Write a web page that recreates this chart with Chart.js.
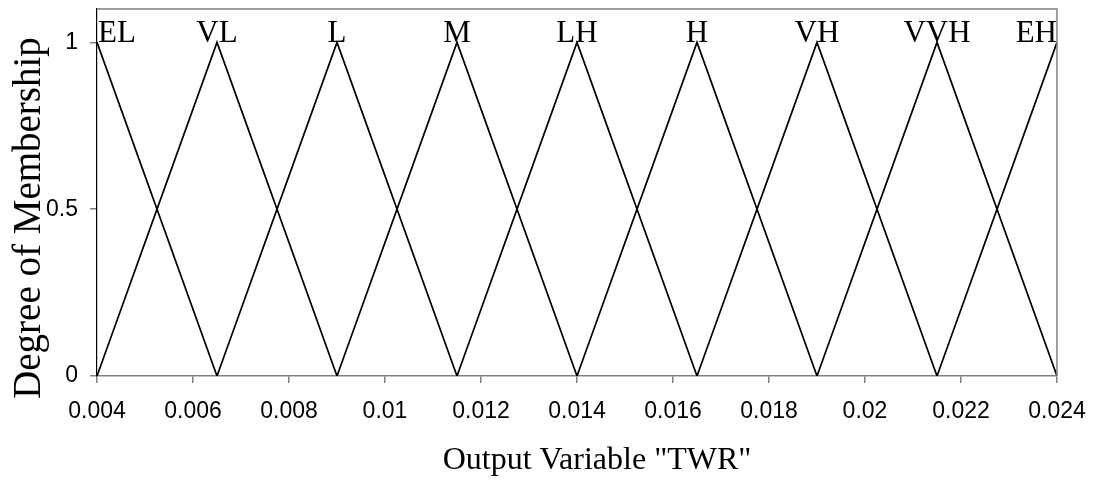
<!DOCTYPE html>
<html>
<head>
<meta charset="utf-8">
<script src="https://cdn.jsdelivr.net/npm/chart.js@4/dist/chart.umd.min.js"></script>
<style>
  html, body { margin: 0; padding: 0; background: #fff; }
  #wrap { width: 1095px; height: 481px; position: relative; }
</style>
</head>
<body>
<div id="wrap"><canvas id="c" width="1095" height="481"></canvas></div>
<script>
// Membership function names and triangle vertices (x positions)
const mfNames = ['EL', 'VL', 'L', 'M', 'LH', 'H', 'VH', 'VVH', 'EH'];
const mfLeft  = [null,   0.004,  0.0065, 0.009,  0.0115, 0.014,  0.0165, 0.019,  0.0215];
const mfPeak  = [0.004,  0.0065, 0.009,  0.0115, 0.014,  0.0165, 0.019,  0.0215, 0.024];
const mfRight = [0.0065, 0.009,  0.0115, 0.014,  0.0165, 0.019,  0.0215, 0.024,  null];
const xTickValues = [0.004, 0.006, 0.008, 0.01, 0.012, 0.014, 0.016, 0.018, 0.02, 0.022, 0.024];
const yTickValues = [0, 0.5, 1];
const xTitle = 'Output Variable "TWR"';
const yTitle = 'Degree of Membership';

const datasets = mfNames.map((name, i) => {
  const pts = [];
  if (mfLeft[i] !== null) pts.push({ x: mfLeft[i], y: 0 });
  pts.push({ x: mfPeak[i], y: 1 });
  if (mfRight[i] !== null) pts.push({ x: mfRight[i], y: 0 });
  return {
    label: name,
    data: pts,
    borderColor: '#000',
    borderWidth: 1.7,
    pointRadius: 0,
    fill: false,
    tension: 0
  };
});

const CHART_LEFT = 97, CHART_RIGHT = 1057, CHART_TOP = 9, CHART_BOTTOM = 376;
const SERIF = '"Liberation Serif", "Times New Roman", serif';
const SANS = '"Liberation Sans", Arial, sans-serif';

const decor = {
  id: 'decor',
  afterDatasetsDraw(chart) {
    const { ctx, chartArea: a, scales } = chart;
    ctx.save();
    // frame: top and right gray
    ctx.strokeStyle = '#808080';
    ctx.lineWidth = 1.5;
    ctx.beginPath();
    ctx.moveTo(a.left, a.top);
    ctx.lineTo(a.right, a.top);
    ctx.lineTo(a.right, a.bottom);
    ctx.stroke();
    // membership labels
    ctx.fillStyle = '#000';
    ctx.font = '31px ' + SERIF;
    ctx.textBaseline = 'alphabetic';
    mfNames.forEach((n, i) => {
      const px = scales.x.getPixelForValue(mfPeak[i]);
      let align = 'center';
      let x = px;
      if (i === 0) { align = 'left'; x = px + 1; }
      if (i === mfNames.length - 1) { align = 'right'; x = px; }
      ctx.textAlign = align;
      ctx.fillText(n, x, 42);
    });
    // axis titles
    ctx.font = '32px ' + SERIF;
    ctx.textAlign = 'center';
    ctx.textBaseline = 'alphabetic';
    ctx.fillText(xTitle, 597, 469);
    ctx.font = '39px ' + SERIF;
    ctx.translate(40, 218);
    ctx.rotate(-Math.PI / 2);
    ctx.fillText(yTitle, 0, 0);
    ctx.restore();
  }
};

new Chart(document.getElementById('c'), {
  type: 'line',
  data: { datasets },
  options: {
    responsive: false,
    animation: false,
    devicePixelRatio: 1,
    layout: { padding: { left: 0, right: 1095 - CHART_RIGHT, top: CHART_TOP, bottom: 0 } },
    plugins: { legend: { display: false }, tooltip: { enabled: false } },
    scales: {
      x: {
        type: 'linear',
        min: 0.004,
        max: 0.024,
        afterBuildTicks(scale) { scale.ticks = xTickValues.map(v => ({ value: v })); },
        afterFit(scale) {
          scale.height = 481 - CHART_BOTTOM;
          scale.paddingLeft = 0; scale.paddingRight = 0;
        },
        ticks: {
          color: '#000',
          font: { family: SANS, size: 23 },
          padding: 15,
          maxRotation: 0,
          autoSkip: false,
          callback: (v) => String(+v.toFixed(4))
        },
        grid: { drawOnChartArea: false, drawTicks: true, tickLength: 7, color: '#808080', lineWidth: 1.5 },
        border: { color: '#808080', width: 1.5 }
      },
      y: {
        type: 'linear',
        min: 0,
        max: 1.1,
        afterBuildTicks(scale) { scale.ticks = yTickValues.map(v => ({ value: v })); },
        afterFit(scale) {
          scale.width = CHART_LEFT;
          scale.paddingTop = 0; scale.paddingBottom = 0;
        },
        ticks: {
          color: '#000',
          font: { family: SANS, size: 23 },
          padding: 12,
          callback: (v) => String(v)
        },
        grid: { drawOnChartArea: false, drawTicks: true, tickLength: 7, color: '#808080', lineWidth: 1.5 },
        border: { color: '#000', width: 1.2 }
      }
    }
  },
  plugins: [decor]
});
</script>
</body>
</html>
